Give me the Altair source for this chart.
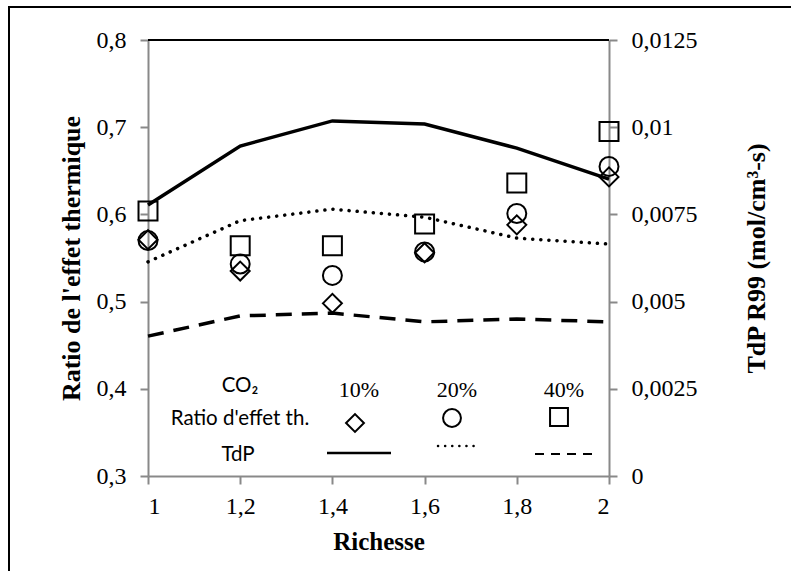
import altair as alt
import pandas as pd

richesse = [1, 1.2, 1.4, 1.6, 1.8, 2]
co2_levels = ["10%", "20%", "40%"]

ratio_10 = [0.571, 0.535, 0.498, 0.556, 0.588, 0.643]
ratio_20 = [0.570, 0.543, 0.530, 0.557, 0.601, 0.655]
ratio_40 = [0.604, 0.564, 0.564, 0.589, 0.636, 0.695]

tdp_10 = [0.00777, 0.00946, 0.01018, 0.01009, 0.00940, 0.00851]
tdp_20 = [0.00614, 0.00732, 0.00765, 0.00742, 0.00682, 0.00665]
tdp_40 = [0.00401, 0.00459, 0.00467, 0.00442, 0.00450, 0.00442]

x_ticks = [1, 1.2, 1.4, 1.6, 1.8, 2]
left_ticks = [0.3, 0.4, 0.5, 0.6, 0.7, 0.8]
right_ticks = [0, 0.0025, 0.005, 0.0075, 0.01, 0.0125]

pts = pd.DataFrame({
    "richesse": richesse * 3,
    "co2": [c for c in co2_levels for _ in richesse],
    "ratio": ratio_10 + ratio_20 + ratio_40,
})
lines = pd.DataFrame({
    "richesse": richesse * 3,
    "co2": [c for c in co2_levels for _ in richesse],
    "tdp": tdp_10 + tdp_20 + tdp_40,
})

GRAY = "#898989"
SERIF = "Times New Roman, Liberation Serif, serif"
comma = "replace(toString(datum.value), '.', ',')"
axis_style = dict(
    domainColor=GRAY, domainWidth=2, tickColor=GRAY, tickWidth=2, tickSize=8,
    labelFont=SERIF, labelFontSize=24, labelColor="black",
    titleFont=SERIF, titleFontWeight="bold", titleColor="black",
    grid=False, labelExpr=comma,
)

W, H = 461, 436

x_enc = alt.X(
    "richesse:Q",
    scale=alt.Scale(domain=[1, 2], nice=False, zero=False),
    axis=alt.Axis(values=x_ticks, title="Richesse", titleFontSize=25,
                  labelPadding=10, titlePadding=11, **axis_style),
)

y_left = alt.Y(
    "ratio:Q",
    scale=alt.Scale(domain=[0.3, 0.8], nice=False, zero=False),
    axis=alt.Axis(values=left_ticks, orient="left", title="Ratio de l'effet thermique",
                  titleFontSize=26, labelPadding=14, titlePadding=12, **axis_style),
)

y_right = alt.Y(
    "tdp:Q",
    scale=alt.Scale(domain=[0, 0.0125], nice=False, zero=False),
    axis=alt.Axis(values=right_ticks, orient="right", title="TdP R99 (mol/cm³-s)",
                  titleFontSize=26, titleAngle=270, titleBaseline="top",
                  labelPadding=14, titlePadding=46, **axis_style),
)

points = alt.Chart(pts).mark_point(
    filled=False, strokeWidth=2, color="black", size=360, opacity=1
).encode(
    x=x_enc, y=y_left,
    shape=alt.Shape("co2:N", scale=alt.Scale(domain=co2_levels,
                    range=["diamond", "circle", "square"]), legend=None),
)

one = alt.Data(values=[{"a": 1}])

top_line = alt.Chart(one).mark_rule(color="black", strokeWidth=2).encode(
    x=alt.value(0), x2=alt.value(W), y=alt.value(0)
)

left = alt.layer(points, top_line)

line_base = alt.Chart(lines)
l10 = line_base.transform_filter(alt.datum.co2 == "10%").mark_line(
    color="black", strokeWidth=3.5).encode(x=x_enc, y=y_right)
l20 = line_base.transform_filter(alt.datum.co2 == "20%").mark_line(
    color="black", strokeWidth=3.5, strokeDash=[0.1, 8], strokeCap="round").encode(x=x_enc, y=y_right)
l40 = line_base.transform_filter(alt.datum.co2 == "40%").mark_line(
    color="black", strokeWidth=3.5, strokeDash=[16, 10]).encode(x=x_enc, y=y_right)
right = alt.layer(l10, l20, l40)

border = alt.Chart(one).mark_rect(filled=False, stroke="black", strokeWidth=2).encode(
    x=alt.value(-139), x2=alt.value(700), y=alt.value(-33), y2=alt.value(600)
)

def label(txt, x, y, font="Lato", size=20.5):
    return alt.Chart(one).mark_text(font=font, fontSize=size, align="center",
                                    baseline="middle", color="black").encode(
        x=alt.value(x), y=alt.value(y), text=alt.value(txt))

legend_layers = [
    label("CO₂", 92, 346),
    label("Ratio d'effet th.", 92, 379),
    label("TdP", 90, 415),
    label("10%", 211, 350, SERIF, 22),
    label("20%", 309, 350, SERIF, 22),
    label("40%", 416, 350, SERIF, 22),
]
for shp, xx, yy in [("diamond", 207, 383), ("circle", 304, 378), ("square", 411, 377)]:
    legend_layers.append(
        alt.Chart(one).mark_point(shape=shp, size=320, filled=False, strokeWidth=2,
                                  color="black", opacity=1).encode(
            x=alt.value(xx), y=alt.value(yy)))
legend_layers.append(alt.Chart(one).mark_rule(color="black", strokeWidth=2.5).encode(
    x=alt.value(179), x2=alt.value(243), y=alt.value(413)))
legend_layers.append(alt.Chart(one).mark_rule(color="black", strokeWidth=2.5,
                                              strokeDash=[0.1, 7], strokeCap="round").encode(
    x=alt.value(290), x2=alt.value(329), y=alt.value(406)))
legend_layers.append(alt.Chart(one).mark_rule(color="black", strokeWidth=2,
                                              strokeDash=[9, 7]).encode(
    x=alt.value(387), x2=alt.value(446), y=alt.value(414)))

chart = alt.layer(border, right, left, *legend_layers).resolve_scale(
    y="independent"
).properties(
    width=W, height=H,
    autosize=alt.AutoSizeParams(type="none"),
    padding={"left": 148, "top": 40, "right": 182, "bottom": 95},
    background="white",
).configure_view(stroke=None)

chart.save("out.html", embed_options={"renderer": "svg", "actions": False})
